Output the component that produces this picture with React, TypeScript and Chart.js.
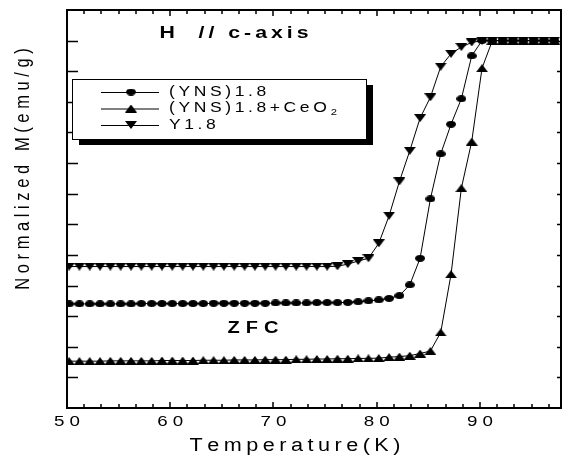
import React, { useEffect, useRef } from "react";
import { Chart, registerables } from "chart.js";
Chart.register(...registerables);

// ---- data ----
const temperature = [
  50.2, 51.2, 52.2, 53.2, 54.2, 55.2, 56.2, 57.2, 58.2, 59.2,
  60.2, 61.2, 62.2, 63.2, 64.2, 65.2, 66.2, 67.2, 68.2, 69.2,
  70.2, 71.2, 72.2, 73.2, 74.2, 75.2, 76.2, 77.2, 78.2, 79.2,
  80.2, 81.2, 82.2, 83.2, 84.2, 85.2, 86.2, 87.2, 88.2, 89.2,
  90.2, 91.2, 92.2, 93.2, 94.2, 95.2, 96.2, 97.2,
];

const ynsValues = [
  0.140, 0.140, 0.140, 0.140, 0.140, 0.140, 0.140, 0.141, 0.141, 0.141,
  0.141, 0.141, 0.141, 0.141, 0.142, 0.142, 0.142, 0.142, 0.142, 0.142,
  0.143, 0.143, 0.143, 0.143, 0.144, 0.144, 0.144, 0.145, 0.147, 0.150,
  0.153, 0.158, 0.167, 0.202, 0.289, 0.483, 0.630, 0.727, 0.810, 0.950,
  1.0, 1.0, 1.0, 1.0, 1.0, 1.0, 1.0, 1.0,
];

const ynsCeo2Values = [
  -0.047, -0.047, -0.047, -0.047, -0.046, -0.046, -0.046, -0.046, -0.046, -0.045,
  -0.045, -0.045, -0.045, -0.044, -0.044, -0.044, -0.043, -0.043, -0.043, -0.042,
  -0.042, -0.042, -0.041, -0.041, -0.040, -0.040, -0.039, -0.039, -0.038, -0.038,
  -0.037, -0.034, -0.032, -0.029, -0.022, -0.014, 0.047, 0.237, 0.518, 0.670,
  0.910, 1.0, 1.0, 1.0, 1.0, 1.0, 1.0, 1.0,
];

const y18Values = [
  0.262, 0.262, 0.262, 0.262, 0.262, 0.262, 0.262, 0.262, 0.262, 0.262,
  0.262, 0.262, 0.262, 0.262, 0.262, 0.262, 0.262, 0.262, 0.262, 0.262,
  0.262, 0.262, 0.262, 0.262, 0.262, 0.262, 0.263, 0.270, 0.280, 0.289,
  0.338, 0.428, 0.540, 0.640, 0.747, 0.815, 0.915, 0.957, 0.979, 0.994,
  1.0, 1.0, 1.0, 1.0, 1.0, 1.0, 1.0, 1.0,
];

const xTickValues = [50, 60, 70, 80, 90];
const xTickLabels = ["50", "60", "70", "80", "90"];
const seriesLabels = ["(YNS)1.8", "(YNS)1.8+CeO", "Y1.8"];
const subscriptText = "2";
const titleText = "H  // c-axis";
const zfcText = "ZFC";
const xTitle = "Temperature(K)";
const yTitle = "Normalized M(emu/g)";

const X_MIN = 50;
const X_MAX = 97.85;
const Y_MIN = -0.2;
const Y_MAX = 1.1;

function makeMarker(kind: string): HTMLCanvasElement {
  const c = document.createElement("canvas");
  if (kind === "circle") {
    c.width = 10;
    c.height = 7;
    const g = c.getContext("2d")!;
    g.fillStyle = "#000";
    g.beginPath();
    g.ellipse(5, 3.5, 5, 3.5, 0, 0, Math.PI * 2);
    g.fill();
  } else {
    c.width = 12;
    c.height = 8;
    const g = c.getContext("2d")!;
    g.fillStyle = "#000";
    g.beginPath();
    if (kind === "up") {
      g.moveTo(6, 0);
      g.lineTo(12, 8);
      g.lineTo(0, 8);
    } else {
      g.moveTo(0, 0);
      g.lineTo(12, 0);
      g.lineTo(6, 8);
    }
    g.closePath();
    g.fill();
  }
  return c;
}

function textWidth(ctx: CanvasRenderingContext2D, text: string, sx: number, sp: number) {
  let w = 0;
  for (let i = 0; i < text.length; i++) {
    w += ctx.measureText(text[i]).width * sx;
    if (i < text.length - 1) w += sp;
  }
  return w;
}

function drawSpaced(
  ctx: CanvasRenderingContext2D,
  text: string,
  x: number,
  y: number,
  font: string,
  sx: number,
  sy: number,
  sp: number,
  align: string
) {
  ctx.save();
  ctx.font = font;
  ctx.fillStyle = "#000";
  ctx.textAlign = "left";
  ctx.textBaseline = "middle";
  const total = textWidth(ctx, text, sx, sp);
  let cur = align === "center" ? x - total / 2 : x;
  for (let i = 0; i < text.length; i++) {
    const ch = text[i];
    const w = ctx.measureText(ch).width * sx;
    ctx.save();
    ctx.translate(cur, y);
    ctx.scale(sx, sy);
    ctx.fillText(ch, 0, 0);
    ctx.restore();
    cur += w + sp;
  }
  ctx.restore();
  return cur - sp;
}

export default function App() {
  const ref = useRef<HTMLCanvasElement | null>(null);

  useEffect(() => {
    const canvas = ref.current;
    if (!canvas) return;
    const circle = makeMarker("circle");
    const up = makeMarker("up");
    const down = makeMarker("down");
    const markers = [circle, up, down];

    const decor = {
      id: "decor",
      afterDatasetsDraw(chart: any) {
        const ctx: CanvasRenderingContext2D = chart.ctx;
        const xs = chart.scales.x;
        const ys = chart.scales.y;
        const a = chart.chartArea;
        ctx.save();
        ctx.strokeStyle = "#000";
        ctx.lineWidth = 2;
        ctx.strokeRect(a.left, a.top, a.right - a.left, a.bottom - a.top);

        // x ticks (bottom & top), 6 minor intervals per 10 K
        ctx.lineWidth = 1.5;
        ctx.beginPath();
        for (let k = 0; k <= 30; k++) {
          const v = X_MIN + (k * 10) / 6;
          if (v > X_MAX) break;
          const px = Math.round(xs.getPixelForValue(v));
          const major = k % 6 === 0;
          const len = major ? 6 : 4;
          ctx.moveTo(px, a.bottom);
          ctx.lineTo(px, a.bottom - len);
          ctx.moveTo(px, a.top);
          ctx.lineTo(px, a.top + len);
        }
        // y ticks
        for (let k = 1; k <= 12; k++) {
          const v = Y_MIN + k * 0.1;
          const py = Math.round(ys.getPixelForValue(v)) + 0.5;
          ctx.moveTo(a.left, py);
          ctx.lineTo(a.left + 11, py);
          ctx.moveTo(a.right, py);
          ctx.lineTo(a.right - 4, py);
        }
        ctx.stroke();

        // x tick labels
        xTickValues.forEach((v, i) => {
          const px = xs.getPixelForValue(v);
          drawSpaced(ctx, xTickLabels[i], px, a.bottom + 14, "15px 'Liberation Sans'", 1.25, 1, 5, "center");
        });

        // axis titles
        drawSpaced(ctx, xTitle, 295, 446, "18px 'Liberation Sans'", 1.2, 1, 4.5, "center");
        ctx.save();
        ctx.translate(23, 169);
        ctx.rotate(-Math.PI / 2);
        drawSpaced(ctx, yTitle, 0, 0, "16.5px 'Liberation Sans'", 1, 1.25, 4.6, "center");
        ctx.restore();

        // annotations
        drawSpaced(ctx, titleText, 234, 33, "bold 17px 'Liberation Sans'", 1.25, 1, 4, "center");
        drawSpaced(ctx, zfcText, 253, 329, "bold 16px 'Liberation Sans'", 1.25, 1, 6, "center");

        // legend box with shadow
        const bx = 72, by = 79, bw = 294, bh = 60;
        ctx.fillStyle = "#000";
        ctx.fillRect(bx + 7, by + 6, bw, bh);
        ctx.fillStyle = "#fff";
        ctx.fillRect(bx, by, bw, bh);
        ctx.lineWidth = 1;
        ctx.strokeStyle = "#000";
        ctx.strokeRect(bx + 0.5, by + 0.5, bw, bh);
        const rows = [92, 108.5, 125];
        rows.forEach((ry, i) => {
          ctx.beginPath();
          ctx.lineWidth = 1;
          ctx.moveTo(101, ry + 0.5);
          ctx.lineTo(159, ry + 0.5);
          ctx.stroke();
          const m = markers[i];
          ctx.drawImage(m, 131 - m.width / 2, ry - m.height / 2);
          const end = drawSpaced(ctx, seriesLabels[i], 169, ry, "14px 'Liberation Sans'", 1.25, 1, 3.6, "left");
          if (i === 1) {
            drawSpaced(ctx, subscriptText, end + 4, ry + 4, "9px 'Liberation Sans'", 1.25, 1, 0, "left");
          }
        });
        ctx.restore();
      },
    };

    const mk = (vals: number[], label: string, marker: HTMLCanvasElement) => ({
      label,
      data: temperature.map((t, i) => ({ x: t, y: vals[i] })),
      borderColor: "#000",
      backgroundColor: "#000",
      borderWidth: 1,
      pointStyle: marker,
      pointRadius: 4,
      tension: 0,
      fill: false,
    });

    const chart = new Chart(canvas, {
      type: "line",
      data: {
        datasets: [
          mk(ynsValues, seriesLabels[0], circle),
          mk(ynsCeo2Values, seriesLabels[1] + subscriptText, up),
          mk(y18Values, seriesLabels[2], down),
        ] as any,
      },
      options: {
        animation: false,
        responsive: false,
        devicePixelRatio: 1,
        events: [],
        layout: { padding: { left: 67, right: 1, top: 10, bottom: 50 } },
        scales: {
          x: { type: "linear", min: X_MIN, max: X_MAX, display: false },
          y: { type: "linear", min: Y_MIN, max: Y_MAX, display: false },
        },
        plugins: { legend: { display: false }, tooltip: { enabled: false } },
      },
      plugins: [decor],
    });
    return () => chart.destroy();
  }, []);

  return (
    <div style={{ position: "fixed", left: 0, top: 0, width: 566, height: 458, background: "#fff" }}>
      <canvas ref={ref} width={566} height={458} style={{ display: "block" }} />
    </div>
  );
}
